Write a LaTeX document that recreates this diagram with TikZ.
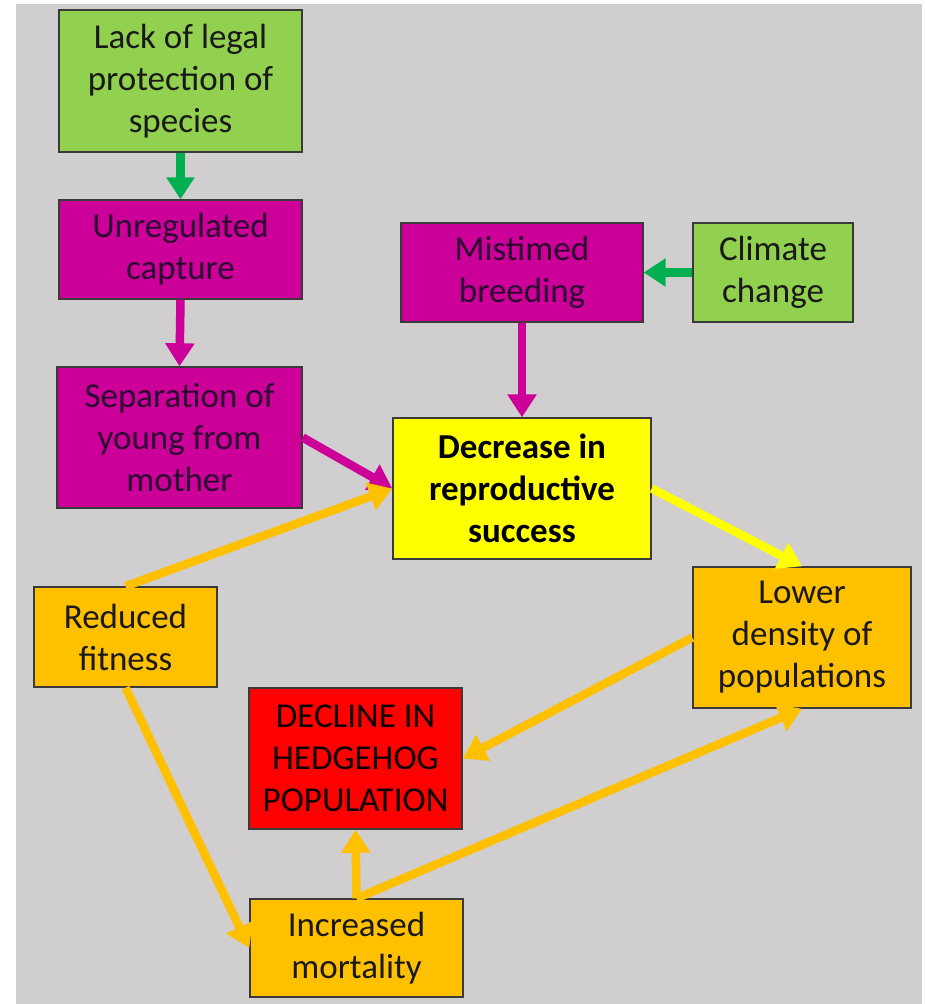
\documentclass[tikz,border=0pt]{standalone}
\usepackage{fontspec}
\setmainfont{Carlito}
\usetikzlibrary{arrows.meta}

\definecolor{bg}{HTML}{D0CECE}
\definecolor{boxline}{HTML}{3A3A3A}
\definecolor{leaf}{HTML}{92D050}
\definecolor{leafarrow}{HTML}{00B050}
\definecolor{magentabox}{HTML}{CC0099}
\definecolor{magentatext}{HTML}{2A0630}
\definecolor{sun}{HTML}{FFFF00}
\definecolor{amber}{HTML}{FFC000}
\definecolor{alarm}{HTML}{FF0000}

\begin{document}
\begin{tikzpicture}[x=1pt,y=-1pt,
  box/.style={draw=boxline, line width=1.4pt, align=center, inner sep=0pt,
    font=\fontsize{35}{42}\selectfont},
  greenbox/.style={box, fill=leaf, text=black!90},
  purplebox/.style={box, fill=magentabox, text=magentatext},
  orangebox/.style={box, fill=amber, text=black!90},
  flow/.style={line width=8.5pt, -{Triangle[length=23pt,width=28pt]}},
  flowshort/.style={line width=9pt, -{Triangle[length=22pt,width=27pt]}}]

% page background
\fill[white] (0,0) rectangle (925,1004);
\fill[bg] (16,4) rectangle (922,1004);
\useasboundingbox (0,0) rectangle (925,1004);

% boxes
\node[greenbox, minimum width=243pt, minimum height=142pt] (lack) at (180.5,81)
  {Lack of legal\\protection of\\species};
\node[purplebox, minimum width=243pt, minimum height=99pt] (capture) at (180.5,249.5)
  {Unregulated\\capture};
\node[purplebox, minimum width=245pt, minimum height=141pt] (separation) at (179.5,437.5)
  {Separation of\\young from\\mother};
\node[purplebox, minimum width=242pt, minimum height=99pt] (mistimed) at (522,272.5)
  {Mistimed\\breeding};
\node[greenbox, minimum width=160pt, minimum height=99pt] (climate) at (773,272.5)
  {Climate\\change};
\node[box, fill=sun, text=black, font=\fontsize{35}{42}\selectfont\bfseries,
  minimum width=258pt, minimum height=141pt] (decrease) at (522,488.5)
  {Decrease in\\reproductive\\success};
\node[orangebox, minimum width=218pt, minimum height=141pt] (density) at (802,637.5)
  {Lower\\density of\\populations};
\node[orangebox, minimum width=183pt, minimum height=100pt] (fitness) at (125.5,637)
  {Reduced\\fitness};
\node[box, fill=alarm, text=black!95!red, minimum width=213pt, minimum height=141pt] (decline) at (355.5,758.5)
  {DECLINE IN\\HEDGEHOG\\POPULATION};
\node[orangebox, minimum width=213pt, minimum height=98pt] (mortality) at (356.5,948)
  {Increased\\mortality};

% connectors
\draw[flowshort, leafarrow] (lack.south) -- (capture.north);
\draw[flow, magentabox] (capture.south) -- (separation.north);
\draw[flowshort, leafarrow] (climate.west) -- (mistimed.east);
\draw[flow, magentabox] (mistimed.south) -- (decrease.north);
\draw[flow, magentabox] (separation.east) -- (decrease.west);
\draw[flow, amber] (fitness.north) -- (decrease.west);
\draw[flow, sun] (decrease.east) -- (density.north);
\draw[flow, amber] (density.west) -- (decline.east);
\draw[flow, amber] (fitness.south) -- (mortality.west);
\draw[flow, amber] (mortality.north) -- (decline.south);
\draw[flow, amber] (mortality.north) -- (density.south);

\end{tikzpicture}
\end{document}
